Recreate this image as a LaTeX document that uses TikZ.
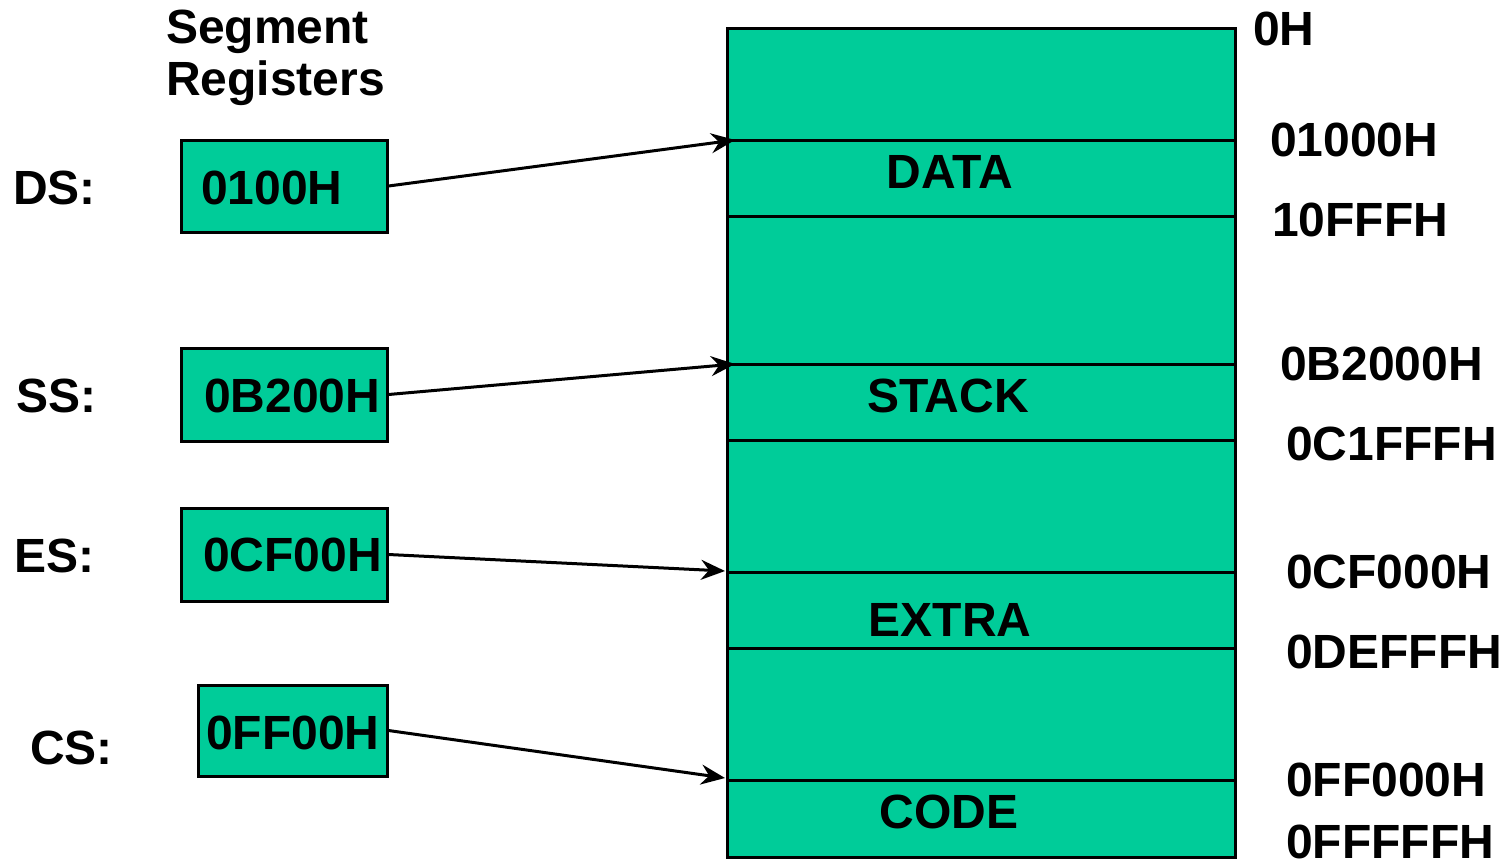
\documentclass[tikz,border=0pt]{standalone}
\usepackage{fontspec}
\setmainfont{Liberation Sans}
\usetikzlibrary{arrows.meta}
\definecolor{seg}{HTML}{00CC99}
\begin{document}
\begin{tikzpicture}[x=1pt,y=-1pt,
  txt/.style={inner sep=0pt,font=\fontsize{48}{52}\bfseries\selectfont},
  lab/.style={txt,anchor=base west},
  regbox/.style={draw,line width=3pt,fill=seg,inner sep=0pt},
  sep/.style={line width=3pt},
  ptr/.style={line width=3pt,-{Stealth[length=24pt,width=20pt,inset=8pt]}}]
\useasboundingbox (0,0) rectangle (1509,860);
% memory
\node[regbox,minimum width=508pt,minimum height=829pt] (mem) at (981,442.5) {};
\coordinate (l1w) at (727,140); \coordinate (l1e) at (1235,140);
\coordinate (l2w) at (727,216); \coordinate (l2e) at (1235,216);
\coordinate (l3w) at (727,364); \coordinate (l3e) at (1235,364);
\coordinate (l4w) at (727,440); \coordinate (l4e) at (1235,440);
\coordinate (l5w) at (727,572); \coordinate (l5e) at (1235,572);
\coordinate (l6w) at (727,648); \coordinate (l6e) at (1235,648);
\coordinate (l7w) at (727,780); \coordinate (l7e) at (1235,780);
\foreach \i in {1,...,7} \draw[sep] (l\i w) -- (l\i e);
\node[txt,anchor=base] (data) at (950,188) {DATA};
\node[txt,anchor=base] (stack) at (948,412) {STACK};
\node[txt,anchor=base] (extra) at (950,636) {EXTRA};
\node[txt,anchor=base] (code) at (949,828) {CODE};
% title
\node[lab] (t1) at (166,43) {Segment};
\node[lab] (t2) at (166,95) {Registers};
% register names
\node[lab] (ds) at (13,204) {DS:};
\node[lab] (ss) at (16,412) {SS:};
\node[lab] (es) at (14,572) {ES:};
\node[lab] (cs) at (30,764) {CS:};
% register boxes
\node[regbox,minimum width=206pt,minimum height=92pt] (dsbox) at (284,186) {};
\node[regbox,minimum width=206pt,minimum height=93pt] (ssbox) at (284,394.5) {};
\node[regbox,minimum width=206pt,minimum height=93pt] (esbox) at (284,554.5) {};
\node[regbox,minimum width=189pt,minimum height=91pt] (csbox) at (292.5,730.5) {};
\node[lab] (dsv) at (201,204) {0100H};
\node[lab] (ssv) at (204,412) {0B200H};
\node[lab] (esv) at (203,571) {0CF00H};
\node[lab] (csv) at (206,749) {0FF00H};
% pointers
\coordinate (dst) at (735,140);
\coordinate (sst) at (735,364);
\coordinate (est) at (725,571);
\coordinate (cst) at (725,778);
\draw[ptr] (dsbox.east) -- (dst);
\draw[ptr] (ssbox.east) -- (sst);
\draw[ptr] (esbox.east) -- (est);
\draw[ptr] (csbox.east) -- (cst);
% addresses
\node[lab] (a0) at (1253,45) {0H};
\node[lab] (a1) at (1270,156) {01000H};
\node[lab] (a2) at (1272,236) {10FFFH};
\node[lab] (a3) at (1280,380) {0B2000H};
\node[lab] (a4) at (1286,460) {0C1FFFH};
\node[lab] (a5) at (1286,588) {0CF000H};
\node[lab] (a6) at (1286,668) {0DEFFFH};
\node[lab] (a7) at (1286,796) {0FF000H};
\node[lab] (a8) at (1286,858) {0FFFFFH};
\end{tikzpicture}
\end{document}
